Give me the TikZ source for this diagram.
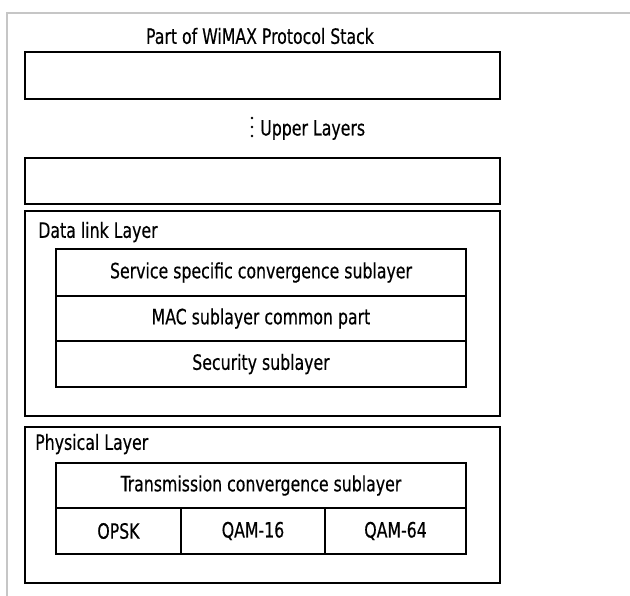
\documentclass[tikz,border=0pt]{standalone}
\usepackage{fontspec}
\setmainfont[FakeStretch=0.83, FakeBold=0.4]{DejaVu Sans Condensed}
\usetikzlibrary{positioning}

\begin{document}
\begin{tikzpicture}
                      [x=0.025cm, y=-0.025cm, node distance=0pt, text centered,
                       box/.style={draw, line width=1.1pt, inner sep=0pt, outer sep=0pt},
                       row/.style={box, minimum width=10.25cm, minimum height=1.15cm},
                       lbl/.style={font=\fontsize{15}{17}\selectfont}]
                      \useasboundingbox (0,0) rectangle (630,596);
                      % frame %
                      \coordinate (fb) at (7,596);
                      \coordinate (ft) at (7,13);
                      \coordinate (fr) at (630,13);
                      \draw[gray!45, line width=0.8pt] (fb) -- (ft) -- (fr);

                      % upper layers %
                      \node[lbl] (title) at (260,36) {Part of WiMAX Protocol Stack};
                      \node[box, minimum width=11.875cm, minimum height=1.175cm] (top) at (262.5,75.5) {};
                      \foreach \y in {118,127,136}
                        \fill (252,\y) circle (1.3);
                      \node[lbl, anchor=west, inner sep=0pt] (upper) at (260,130) {Upper Layers};
                      \node[box, minimum width=11.875cm, minimum height=1.15cm] (low) at (262.5,181) {};

                      % data link layer %
                      \node[box, minimum width=11.875cm, minimum height=5.125cm] (dll) at (262.5,313.5) {};
                      \node[lbl, anchor=west, inner sep=0pt] (dlltxt) at (38,232) {Data link Layer};
                      \node[row, lbl, minimum height=1.175cm] (ssc) at (261,272.5) {Service specific convergence sublayer};
                      \node[row, lbl, below=of ssc, minimum height=1.125cm] (mac) {MAC sublayer common part};
                      \node[row, lbl, below=of mac] (sec) {Security sublayer};

                      % physical layer %
                      \node[box, minimum width=11.875cm, minimum height=3.9cm] (phy) at (262.5,505) {};
                      \node[lbl, anchor=west, inner sep=0pt] (phytxt) at (35,444) {Physical Layer};
                      \node[row, lbl, minimum height=1.125cm] (tcs) at (261,485.5) {Transmission convergence sublayer};
                      \node[box, lbl, minimum width=3.125cm, minimum height=1.15cm, below=of tcs.south west, anchor=north west] (opsk) {OPSK};
                      \node[box, lbl, minimum width=3.6cm, minimum height=1.15cm, right=of opsk] (qam16) {QAM-16};
                      \node[box, lbl, minimum width=3.525cm, minimum height=1.15cm, right=of qam16] (qam64) {QAM-64};
                    \end{tikzpicture}
\end{document}
